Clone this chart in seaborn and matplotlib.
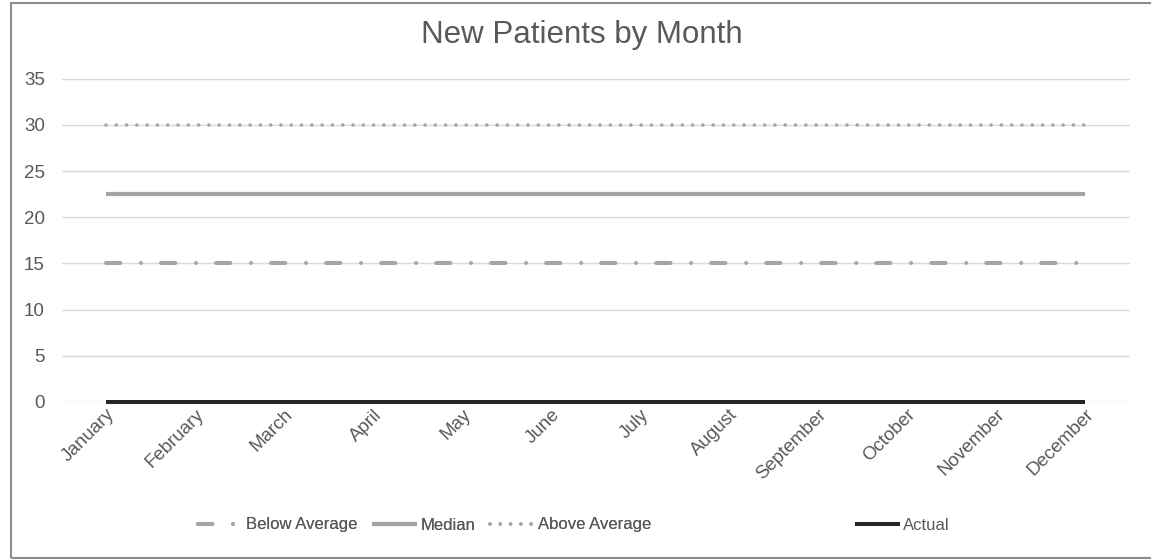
import matplotlib
matplotlib.use("Agg")
import matplotlib.pyplot as plt
import seaborn as sns
import pandas as pd
from matplotlib.patches import Rectangle

# Monthly series
months = ["January", "February", "March", "April", "May", "June", "July",
          "August", "September", "October", "November", "December"]
below_average = [15] * 12
median = [22.5] * 12
above_average = [30] * 12
actual = [0] * 12
y_ticks = [0, 5, 10, 15, 20, 25, 30, 35]

sns.set_theme(style="white")
plt.rcParams["font.family"] = ["Liberation Sans", "DejaVu Sans"]
plt.rcParams["lines.scale_dashes"] = False

TEXT = "#595959"
GRID = "#d9d9d9"
W, H = 1151, 560

fig = plt.figure(figsize=(W / 100, H / 100), dpi=100)
ax = fig.add_axes([61.5 / W, 1 - 402 / H, (1129.5 - 61.5) / W, (402 - 78.6) / H])

df = pd.DataFrame({"month": months,
                   "Below Average": below_average,
                   "Median": median,
                   "Above Average": above_average,
                   "Actual": actual})

styles = {
    "Below Average": dict(color="#a5a5a5", lw=2.9, dashes=(10.3, 14.9, 0.01, 14.4),
                          cap="round"),
    "Median": dict(color="#a5a5a5", lw=3.0, cap="butt"),
    "Above Average": dict(color="#a5a5a5", lw=2.6, dashes=(0.01, 7.4),
                          cap="round"),
    "Actual": dict(color="#262626", lw=2.9, cap="butt"),
}

for name, st in styles.items():
    sns.lineplot(data=df, x="month", y=name, ax=ax, label=name, legend=False,
                 sort=False, color=st["color"])
    line = ax.lines[-1]
    line.set_linewidth(st["lw"])
    line.set_clip_on(False)
    if "dashes" in st:
        line.set_dashes(st["dashes"])
        line.set_dash_capstyle(st["cap"])
    else:
        line.set_solid_capstyle(st["cap"])

ax.set_xlim(-0.5, len(months) - 0.5)
ax.set_ylim(0, 35)
ax.set_yticks(y_ticks)
ax.set_xticks(range(len(months)))
ax.set_xticklabels(months, rotation=45, ha="right", va="top",
                   rotation_mode="anchor")
ax.set_xlabel("")
ax.set_ylabel("")
ax.yaxis.grid(True, color=GRID, lw=1.0)
ax.set_axisbelow(True)
for s in ax.spines.values():
    s.set_visible(False)
ax.tick_params(axis="both", length=0, labelsize=13.5, labelcolor=TEXT)
ax.tick_params(axis="y", pad=12)
ax.tick_params(axis="x", pad=3)

fig.text(582 / W, 1 - 35 / H, "New Patients by Month", ha="center", va="center",
         fontsize=22.5, color=TEXT)

handles, labels = ax.get_legend_handles_labels()
leg_kw = dict(loc="center left", frameon=False, labelcolor=TEXT, fontsize=12,
              handlelength=2.7, handletextpad=0.18, columnspacing=0.9,
              borderpad=0, borderaxespad=0)
leg1 = fig.legend(handles[:3], labels[:3], ncol=3,
                  bbox_to_anchor=(198 / W, 1 - 525 / H), **leg_kw)
fig.add_artist(leg1)
fig.legend(handles[3:], labels[3:], ncol=1,
           bbox_to_anchor=(855 / W, 1 - 525 / H), **leg_kw)

fig.patches.append(Rectangle((11 / W, 1 - 558 / H), 1.2, (558 - 3) / H,
                             transform=fig.transFigure, fill=False,
                             ec="#8c8c8c", lw=1.5))

fig.savefig("out.png", dpi=100, facecolor="white")
